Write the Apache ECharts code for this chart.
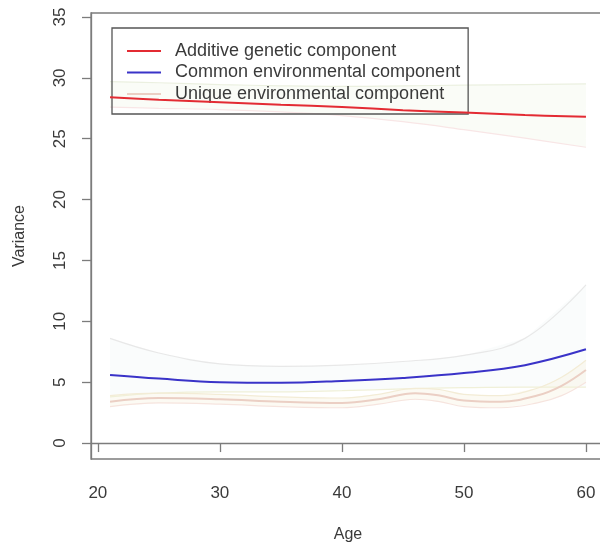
<!DOCTYPE html>
<html>
<head>
<meta charset="utf-8">
<script src="https://cdn.jsdelivr.net/npm/echarts@6/dist/echarts.min.js"></script>
<style>
  html, body { margin: 0; padding: 0; background: #ffffff; }
  #chart { width: 600px; height: 548px; }
</style>
</head>
<body>
<div id="chart"></div>
<script>
// Variance components by age (ACE model)
const ages = [21, 25, 30, 35, 40, 45, 50, 55, 60];

const additive      = [28.4, 28.2, 28.0, 27.8, 27.6, 27.35, 27.15, 26.95, 26.8];
const additiveLow   = [27.6, 27.5, 27.4, 27.2, 26.9, 26.4, 25.75, 25.05, 24.3];
const additiveHigh  = [29.7, 29.6, 29.45, 29.35, 29.3, 29.35, 29.4, 29.45, 29.5];

const common        = [5.6, 5.3, 5.0, 4.95, 5.1, 5.35, 5.75, 6.4, 7.7];
const commonLow     = [3.8, 4.1, 4.2, 4.2, 4.3, 4.45, 4.55, 4.6, 4.6];
const commonHigh    = [8.6, 7.4, 6.5, 6.3, 6.4, 6.7, 7.2, 8.6, 13.0];

const uniqueAges    = [21, 25, 30, 35, 40, 43, 46, 48, 50, 53, 56, 58, 60];
const unique        = [3.4, 3.7, 3.6, 3.4, 3.3, 3.6, 4.1, 3.9, 3.5, 3.4, 3.9, 4.7, 6.0];
const uniqueLow     = [3.0, 3.3, 3.2, 3.0, 2.9, 3.2, 3.6, 3.4, 3.0, 2.9, 3.3, 3.9, 5.0];
const uniqueHigh    = [3.9, 4.1, 4.0, 3.8, 3.7, 4.0, 4.5, 4.4, 4.0, 3.9, 4.5, 5.4, 6.8];

const yTicks = [0, 5, 10, 15, 20, 25, 30, 35];
const xTicks = [20, 30, 40, 50, 60];

const seriesNames = [
  'Additive genetic component',
  'Common environmental component',
  'Unique environmental component'
];

const pairs = (xs, ys) => xs.map((x, i) => [x, ys[i]]);

// Confidence band: filled polygon between the bounds plus two faint edge lines
function band(xs, lo, hi, fill, upperEdge, lowerEdge) {
  const fillSeries = {
    type: 'custom', silent: true, z: 1,
    data: [[xs[0], lo[0]]],
    renderItem: (params, api) => {
      const pts = xs.map((x, i) => api.coord([x, hi[i]]));
      for (let i = xs.length - 1; i >= 0; i--) pts.push(api.coord([xs[i], lo[i]]));
      return {
        type: 'polygon',
        shape: { points: pts },
        style: { fill: fill, stroke: null }
      };
    }
  };
  const edge = (ys, color) => ({
    type: 'line', data: pairs(xs, ys), smooth: 0.4, symbol: 'none', silent: true,
    lineStyle: { width: 1.2, color: color }, z: 2
  });
  return [fillSeries, edge(hi, upperEdge), edge(lo, lowerEdge)];
}

const font = 'Liberation Sans, Arial, Helvetica, sans-serif';
const axisColor = '#7c7c7c';
const textColor = '#3a3a3a';

const chart = echarts.init(document.getElementById('chart'));
chart.setOption({
  animation: false,
  backgroundColor: '#ffffff',
  grid: {
    left: 91, right: -5, top: 13, bottom: 89,
    outerBoundsMode: 'none',
    show: true, borderColor: axisColor, borderWidth: 1.3
  },
  legend: {
    data: seriesNames,
    orient: 'vertical',
    left: 112, top: 28,
    padding: [14, 8, 11, 15],
    itemWidth: 34, itemHeight: 2, itemGap: 3.5,
    icon: 'rect',
    borderColor: '#555555', borderWidth: 1.3,
    textStyle: { fontFamily: font, fontSize: 18, color: textColor, padding: [0, 0, 0, 9] }
  },
  xAxis: {
    type: 'value', min: 19.44, max: 61.56,
    name: 'Age', nameLocation: 'middle', nameGap: 68,
    nameTextStyle: { fontFamily: font, fontSize: 16, color: textColor },
    splitLine: { show: false },
    axisLine: { show: true, lineStyle: { color: axisColor, width: 1.3 } },
    axisTick: { show: true, length: 9, customValues: xTicks, lineStyle: { color: axisColor, width: 1.3 } },
    axisLabel: { customValues: xTicks, margin: 26, fontFamily: font, fontSize: 17, color: textColor }
  },
  yAxis: {
    type: 'value', min: -1.31, max: 35.33,
    name: 'Variance', nameLocation: 'middle', nameGap: 63, nameRotate: 90,
    nameTextStyle: { fontFamily: font, fontSize: 16, color: textColor },
    splitLine: { show: false },
    axisLine: { show: true, lineStyle: { color: axisColor, width: 1.3 } },
    axisTick: { show: true, length: 9, customValues: yTicks, lineStyle: { color: axisColor, width: 1.3 } },
    axisLabel: { customValues: yTicks, rotate: 90, margin: 22, fontFamily: font, fontSize: 17, color: textColor }
  },
  series: [
    ...band(ages, additiveLow, additiveHigh, 'rgba(240,246,230,0.3)', '#ebf0e0', '#f8e6e6'),
    ...band(ages, commonLow, commonHigh, 'rgba(238,244,244,0.3)', '#e8e8e8', '#f0f0d8'),
    ...band(uniqueAges, uniqueLow, uniqueHigh, 'rgba(248,242,226,0.4)', '#f3ecd6', '#f6e4de'),
    {
      type: 'line', name: seriesNames[0], data: pairs(ages, additive),
      smooth: 0.4, symbol: 'none', color: '#e32b33',
      lineStyle: { width: 2, color: '#e32b33' }, z: 5
    },
    {
      type: 'line', name: seriesNames[1], data: pairs(ages, common),
      smooth: 0.4, symbol: 'none', color: '#3a33c8',
      lineStyle: { width: 2, color: '#3a33c8' }, z: 5
    },
    {
      type: 'line', name: seriesNames[2], data: pairs(uniqueAges, unique),
      smooth: 0.4, symbol: 'none', color: '#ebcfc4',
      lineStyle: { width: 2, color: '#ebcfc4' }, z: 4
    }
  ]
});
</script>
</body>
</html>
